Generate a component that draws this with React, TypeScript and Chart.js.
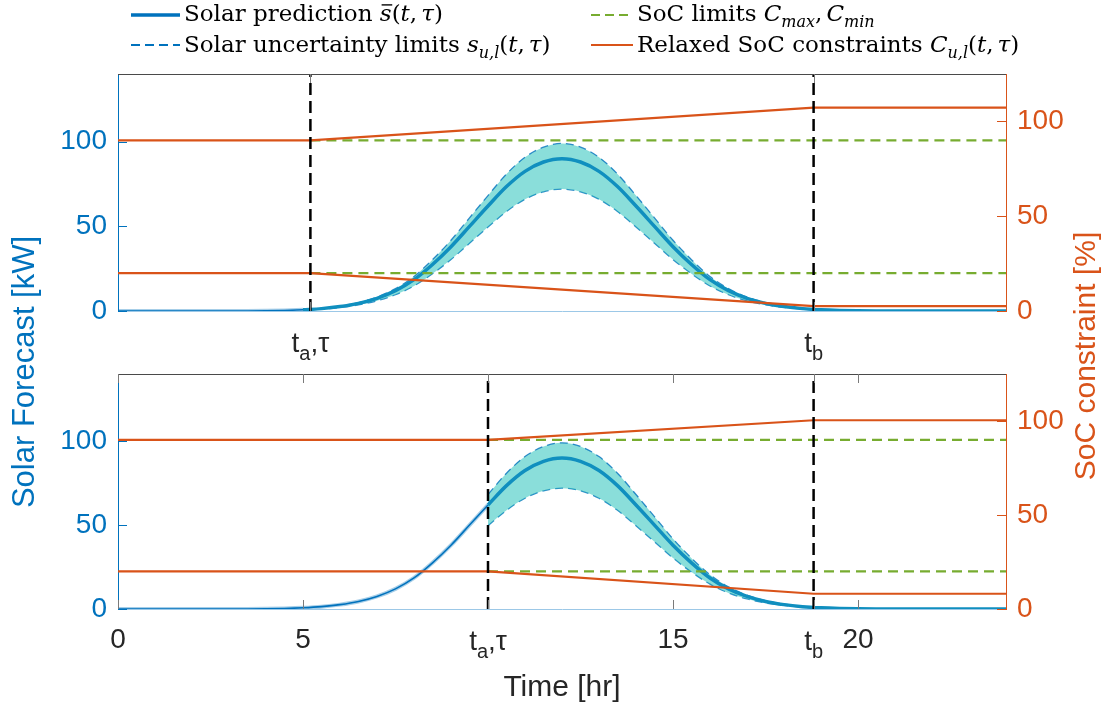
import React, { useEffect, useRef } from 'react';
import { Chart, registerables } from 'chart.js';

Chart.register(...registerables);

// ---------------- data ----------------
const HOURS = [0, 0.5, 1, 1.5, 2, 2.5, 3, 3.5, 4, 4.5, 5, 5.5, 6, 6.5, 7, 7.5, 8, 8.5, 9, 9.5, 10, 10.5, 11, 11.5, 12, 12.5, 13, 13.5, 14, 14.5, 15, 15.5, 16, 16.5, 17, 17.5, 18, 18.5, 19, 19.5, 20, 20.5, 21, 21.5, 22, 22.5, 23, 23.5, 24];
const SOLAR_MEAN = [0, 0, 0, 0, 0, 0, 0, 0, 0.1, 0.3, 0.7, 1.4, 2.6, 4.5, 7.5, 12, 18.5, 27.5, 38, 50, 62, 73.5, 82.5, 88, 90, 88, 82.5, 73.5, 62, 50, 38, 27.5, 18.5, 12, 7.5, 4.5, 2.6, 1.4, 0.7, 0.3, 0.1, 0, 0, 0, 0, 0, 0, 0, 0];
const SOLAR_UPPER = [0, 0, 0, 0, 0, 0, 0, 0, 0.1, 0.3, 0.8, 1.5, 2.9, 5, 8.3, 13.2, 20.4, 30.3, 41.8, 55, 68.2, 80.9, 90.8, 96.8, 99, 96.8, 90.8, 80.9, 68.2, 55, 41.8, 30.3, 20.4, 13.2, 8.3, 5, 2.9, 1.5, 0.8, 0.3, 0.1, 0, 0, 0, 0, 0, 0, 0, 0];
const SOLAR_LOWER = [0, 0, 0, 0, 0, 0, 0, 0, 0.1, 0.2, 0.6, 1.1, 2.1, 3.6, 6, 9.6, 14.8, 22, 30.4, 40, 49.6, 58.8, 66, 70.4, 72, 70.4, 66, 58.8, 49.6, 40, 30.4, 22, 14.8, 9.6, 6, 3.6, 2.1, 1.1, 0.6, 0.2, 0.1, 0, 0, 0, 0, 0, 0, 0, 0];

const TA_TOP = 5.2;
const TA_BOTTOM = 10;
const TB = 18.8;

const SOC_TIMES_TOP = [0, 5.2, 18.8, 24];
const SOC_UPPER_TOP = [90, 90, 107.3, 107.3];
const SOC_LOWER_TOP = [20, 20, 2.6, 2.6];
const SOC_TIMES_BOTTOM = [0, 10, 18.8, 24];
const SOC_UPPER_BOTTOM = [90, 90, 100.4, 100.4];
const SOC_LOWER_BOTTOM = [20, 20, 8.1, 8.1];
const SOC_MAX = 90;
const SOC_MIN = 20;

const X_TICKS_BOTTOM = [0, 5, 15, 20];
const Y_TICKS_LEFT = [0, 50, 100];
const Y_TICKS_RIGHT = [0, 50, 100];
const X_MAX = 24;
const Y_LEFT_MAX = 140;
const Y_RIGHT_MAX = 125;

// ---------------- style ----------------
const W = 1112;
const H = 714;
const SANS = '"Liberation Sans", Arial, Helvetica, sans-serif';
const SERIF = '"DejaVu Serif", "Liberation Serif", serif';
const BLUE = '#0072BD';
const ORANGE = '#D95319';
const GREEN = '#77AC30';
const DARK = '#262626';
const MEAN_COLOR = '#108FBF';
const BAND_FILL = 'rgba(22,190,182,0.5)';
const LIMIT_COLOR = 'rgba(0,114,189,0.8)';
const AXIS_LIGHT = '#9cc8e7';

type Seg = { t?: string; it?: boolean; sub?: boolean; bar?: boolean; gap?: number };

function runRich(ctx: CanvasRenderingContext2D, x: number, y: number, segs: Seg[], size: number, family: string, draw: boolean) {
  let cx = x;
  for (const s of segs) {
    if (s.gap) { cx += s.gap; continue; }
    const fs = s.sub ? Math.round(size * 0.7) : size;
    ctx.font = `${s.it ? 'italic ' : ''}${fs}px ${family}`;
    const w = ctx.measureText(s.t || '').width;
    if (draw) {
      const yy = y + (s.sub ? size * 0.28 : 0);
      ctx.fillText(s.t || '', cx, yy);
      if (s.bar) {
        ctx.save();
        ctx.strokeStyle = ctx.fillStyle as string;
        ctx.lineWidth = Math.max(1, size * 0.06);
        ctx.beginPath();
        ctx.moveTo(cx + w * 0.15, y - size * 0.7);
        ctx.lineTo(cx + w * 1.05, y - size * 0.7);
        ctx.stroke();
        ctx.restore();
      }
    }
    cx += w;
  }
  return cx - x;
}

function xy(xs: number[], ys: number[]) {
  return xs.map((x, i) => ({ x, y: ys[i] }));
}

const TICK_SIZE = 28;
const LEGEND_SIZE = 23;

function drawTLabel(ctx: CanvasRenderingContext2D, cx: number, baseline: number, segs: Seg[]) {
  ctx.textAlign = 'left';
  ctx.textBaseline = 'alphabetic';
  ctx.fillStyle = DARK;
  const w = runRich(ctx, 0, 0, segs, TICK_SIZE, SANS, false);
  runRich(ctx, cx - w / 2, baseline, segs, TICK_SIZE, SANS, true);
}

const TA_LABEL: Seg[] = [{ t: 't' }, { t: 'a', sub: true }, { t: ',' }, { t: 'τ' }];
const TB_LABEL: Seg[] = [{ t: 't' }, { t: 'b', sub: true }];

function makeConfig(panel: 'top' | 'bottom'): any {
  const ta = panel === 'top' ? TA_TOP : TA_BOTTOM;
  const socT = panel === 'top' ? SOC_TIMES_TOP : SOC_TIMES_BOTTOM;
  const socU = panel === 'top' ? SOC_UPPER_TOP : SOC_UPPER_BOTTOM;
  const socL = panel === 'top' ? SOC_LOWER_TOP : SOC_LOWER_BOTTOM;

  const idx = HOURS.map((_, i) => i);
  const pastIdx = idx.filter((i) => HOURS[i] <= ta);
  const startIdx = pastIdx[pastIdx.length - 1];
  const foreIdx = idx.filter((i) => i >= startIdx);
  const pts = (arr: number[], ids: number[]) => ids.map((i) => ({ x: HOURS[i], y: arr[i] }));

  const lineBase = { pointRadius: 0, pointHoverRadius: 0, fill: false, tension: 0 };
  const solarBase = { ...lineBase, cubicInterpolationMode: 'monotone' as const, yAxisID: 'yL' };

  const datasets: any[] = [
    { ...lineBase, label: 'ta', data: [{ x: ta, y: 0 }, { x: ta, y: Y_LEFT_MAX }], yAxisID: 'yL', borderColor: '#000', borderWidth: 2.5, borderDash: [12, 6], order: 0 },
    { ...lineBase, label: 'tb', data: [{ x: TB, y: 0 }, { x: TB, y: Y_LEFT_MAX }], yAxisID: 'yL', borderColor: '#000', borderWidth: 2.5, borderDash: [12, 6], order: 0 },
    { ...lineBase, label: 'socU', data: xy(socT, socU), yAxisID: 'yR', borderColor: ORANGE, borderWidth: 2.2, order: 1 },
    { ...lineBase, label: 'socL', data: xy(socT, socL), yAxisID: 'yR', borderColor: ORANGE, borderWidth: 2.2, order: 1 },
    { ...lineBase, label: 'cmax', data: [{ x: ta, y: SOC_MAX }, { x: X_MAX, y: SOC_MAX }], yAxisID: 'yR', borderColor: GREEN, borderWidth: 2.3, borderDash: [10, 6], order: 2 },
    { ...lineBase, label: 'cmin', data: [{ x: ta, y: SOC_MIN }, { x: X_MAX, y: SOC_MIN }], yAxisID: 'yR', borderColor: GREEN, borderWidth: 2.3, borderDash: [10, 6], order: 2 },
    { ...solarBase, label: 'mean', data: pts(SOLAR_MEAN, foreIdx), borderColor: MEAN_COLOR, borderWidth: 3.5, order: 3 },
    { ...solarBase, label: 'upper', data: pts(SOLAR_UPPER, foreIdx), borderColor: LIMIT_COLOR, borderWidth: 1.3, borderDash: [8, 5], fill: '+1', backgroundColor: BAND_FILL, order: 4 },
    { ...solarBase, label: 'lower', data: pts(SOLAR_LOWER, foreIdx), borderColor: LIMIT_COLOR, borderWidth: 1.3, borderDash: [8, 5], order: 4 },
    { ...solarBase, label: 'pastBlue', data: pts(SOLAR_MEAN, pastIdx), borderColor: BLUE, borderWidth: 1.6, order: 5 },
    { ...solarBase, label: 'pastLight', data: pts(SOLAR_MEAN, pastIdx), borderColor: 'rgba(0,114,189,0.35)', borderWidth: 4, order: 6 },
  ];

  const xTickVals = panel === 'top' ? [TA_TOP, TB] : [0, 5, TA_BOTTOM, 15, TB, 20];

  const decor = {
    id: 'decor_' + panel,
    afterDraw(chart: any) {
      const { ctx, chartArea: a, scales } = chart;
      const sx = scales.x, sl = scales.yL, sr = scales.yR;
      ctx.save();
      // top border of the box
      ctx.strokeStyle = '#4a4a4a';
      ctx.lineWidth = 1;
      ctx.beginPath();
      ctx.moveTo(a.left, Math.round(a.top) + 0.5);
      ctx.lineTo(a.right, Math.round(a.top) + 0.5);
      ctx.stroke();
      // inward tick marks
      const TL = 9;
      ctx.strokeStyle = BLUE;
      for (const v of Y_TICKS_LEFT) {
        const y = Math.round(sl.getPixelForValue(v)) + 0.5;
        ctx.beginPath(); ctx.moveTo(a.left, y); ctx.lineTo(a.left + TL, y); ctx.stroke();
      }
      ctx.strokeStyle = ORANGE;
      for (const v of Y_TICKS_RIGHT) {
        const y = Math.round(sr.getPixelForValue(v)) + 0.5;
        ctx.beginPath(); ctx.moveTo(a.right, y); ctx.lineTo(a.right - TL, y); ctx.stroke();
      }
      ctx.strokeStyle = '#7a7a7a';
      for (const v of xTickVals) {
        const x = Math.round(sx.getPixelForValue(v)) + 0.5;
        ctx.beginPath(); ctx.moveTo(x, a.bottom); ctx.lineTo(x, a.bottom - TL); ctx.stroke();
        ctx.beginPath(); ctx.moveTo(x, a.top); ctx.lineTo(x, a.top + TL); ctx.stroke();
      }
      // t_a, t_b tick labels
      const baseline = a.bottom + 41;
      drawTLabel(ctx, sx.getPixelForValue(ta), baseline, TA_LABEL);
      drawTLabel(ctx, sx.getPixelForValue(TB), baseline, TB_LABEL);

      if (panel === 'top') {
        // legend
        ctx.textAlign = 'left';
        ctx.textBaseline = 'alphabetic';
        ctx.fillStyle = '#000';
        const rows = [15, 45];
        const base = [21, 52];
        const c1 = [131, 180, 184];
        const c2 = [591, 633, 637];
        const sample = (x0: number, x1: number, y: number, color: string, w: number, dash: number[]) => {
          ctx.save();
          ctx.strokeStyle = color; ctx.lineWidth = w; ctx.setLineDash(dash);
          ctx.beginPath(); ctx.moveTo(x0, y); ctx.lineTo(x1, y); ctx.stroke();
          ctx.restore();
        };
        sample(c1[0], c1[1], rows[0], BLUE, 3.5, []);
        sample(c1[0], c1[1], rows[1], BLUE, 1.8, [9, 5]);
        sample(c2[0], c2[1], rows[0], GREEN, 2, [9, 5]);
        sample(c2[0], c2[1], rows[1], ORANGE, 2, []);
        ctx.fillStyle = '#000';
        runRich(ctx, c1[2], base[0], [
          { t: 'Solar prediction ' }, { t: 's', it: true, bar: true }, { t: '(' }, { t: 't', it: true }, { t: ',' }, { gap: 4 }, { t: 'τ', it: true }, { t: ')' },
        ], LEGEND_SIZE, SERIF, true);
        runRich(ctx, c1[2], base[1], [
          { t: 'Solar uncertainty limits ' }, { t: 's', it: true }, { t: 'u,l', it: true, sub: true }, { t: '(' }, { t: 't', it: true }, { t: ',' }, { gap: 4 }, { t: 'τ', it: true }, { t: ')' },
        ], LEGEND_SIZE, SERIF, true);
        runRich(ctx, c2[2], base[0], [
          { t: 'SoC limits ' }, { t: 'C', it: true }, { t: 'max', it: true, sub: true }, { t: ',' }, { gap: 4 }, { t: 'C', it: true }, { t: 'min', it: true, sub: true },
        ], LEGEND_SIZE, SERIF, true);
        runRich(ctx, c2[2], base[1], [
          { t: 'Relaxed SoC constraints ' }, { t: 'C', it: true }, { t: 'u,l', it: true, sub: true }, { t: '(' }, { t: 't', it: true }, { t: ',' }, { gap: 4 }, { t: 'τ', it: true }, { t: ')' },
        ], LEGEND_SIZE, SERIF, true);
      } else {
        // axis titles
        ctx.textAlign = 'center';
        ctx.textBaseline = 'middle';
        ctx.font = `31px ${SANS}`;
        ctx.fillStyle = BLUE;
        ctx.save(); ctx.translate(25, 372); ctx.rotate(-Math.PI / 2); ctx.fillText('Solar Forecast [kW]', 0, 0); ctx.restore();
        ctx.fillStyle = ORANGE;
        ctx.font = `30px ${SANS}`;
        ctx.save(); ctx.translate(1087, 356); ctx.rotate(-Math.PI / 2); ctx.fillText('SoC constraint [%]', 0, 0); ctx.restore();
        ctx.fillStyle = DARK;
        ctx.font = `30px ${SANS}`;
        ctx.fillText('Time [hr]', (a.left + a.right) / 2, 688);
      }
      ctx.restore();
    },
  };

  const xAxisHeight = panel === 'top' ? 40 : 60;
  const plotTop = panel === 'top' ? 74 : 374;
  const plotBottom = panel === 'top' ? 311 : 609;

  return {
    type: 'line',
    data: { datasets },
    options: {
      responsive: false,
      maintainAspectRatio: false,
      animation: false,
      devicePixelRatio: 1,
      events: [],
      layout: { padding: { top: plotTop, bottom: H - plotBottom - xAxisHeight, left: 0, right: 0 } },
      plugins: { legend: { display: false }, tooltip: { enabled: false } },
      scales: {
        x: {
          type: 'linear',
          position: 'bottom',
          min: 0,
          max: X_MAX,
          grid: { display: false, drawTicks: false },
          border: { display: true, color: AXIS_LIGHT, width: 1 },
          ticks: {
            display: panel === 'bottom',
            color: DARK,
            font: { size: TICK_SIZE, family: SANS },
            padding: 14,
            maxRotation: 0,
            autoSkip: false,
          },
          afterBuildTicks: (s: any) => { s.ticks = X_TICKS_BOTTOM.map((v) => ({ value: v })); },
          afterFit: (s: any) => { s.height = xAxisHeight; },
        },
        yL: {
          type: 'linear',
          position: 'left',
          min: 0,
          max: Y_LEFT_MAX,
          grid: { display: false, drawTicks: false },
          border: { display: true, color: BLUE, width: 1 },
          ticks: { color: BLUE, font: { size: TICK_SIZE, family: SANS }, padding: 11 },
          afterBuildTicks: (s: any) => { s.ticks = Y_TICKS_LEFT.map((v) => ({ value: v })); },
          afterFit: (s: any) => { s.width = 118; },
        },
        yR: {
          type: 'linear',
          position: 'right',
          min: 0,
          max: Y_RIGHT_MAX,
          grid: { display: false, drawTicks: false },
          border: { display: true, color: ORANGE, width: 1 },
          ticks: { color: ORANGE, font: { size: TICK_SIZE, family: SANS }, padding: 11 },
          afterBuildTicks: (s: any) => { s.ticks = Y_TICKS_RIGHT.map((v) => ({ value: v })); },
          afterFit: (s: any) => { s.width = W - 1006; },
        },
      },
    },
    plugins: [decor],
  };
}

export default function App() {
  const topRef = useRef<HTMLCanvasElement>(null);
  const botRef = useRef<HTMLCanvasElement>(null);
  useEffect(() => {
    const c1 = new Chart(topRef.current as HTMLCanvasElement, makeConfig('top'));
    const c2 = new Chart(botRef.current as HTMLCanvasElement, makeConfig('bottom'));
    return () => { c1.destroy(); c2.destroy(); };
  }, []);
  const cs: React.CSSProperties = { position: 'absolute', left: 0, top: 0, width: W, height: H };
  return (
    <div style={{ position: 'fixed', left: 0, top: 0, width: W, height: H, background: '#fff' }}>
      <canvas ref={topRef} width={W} height={H} style={cs} />
      <canvas ref={botRef} width={W} height={H} style={cs} />
    </div>
  );
}
